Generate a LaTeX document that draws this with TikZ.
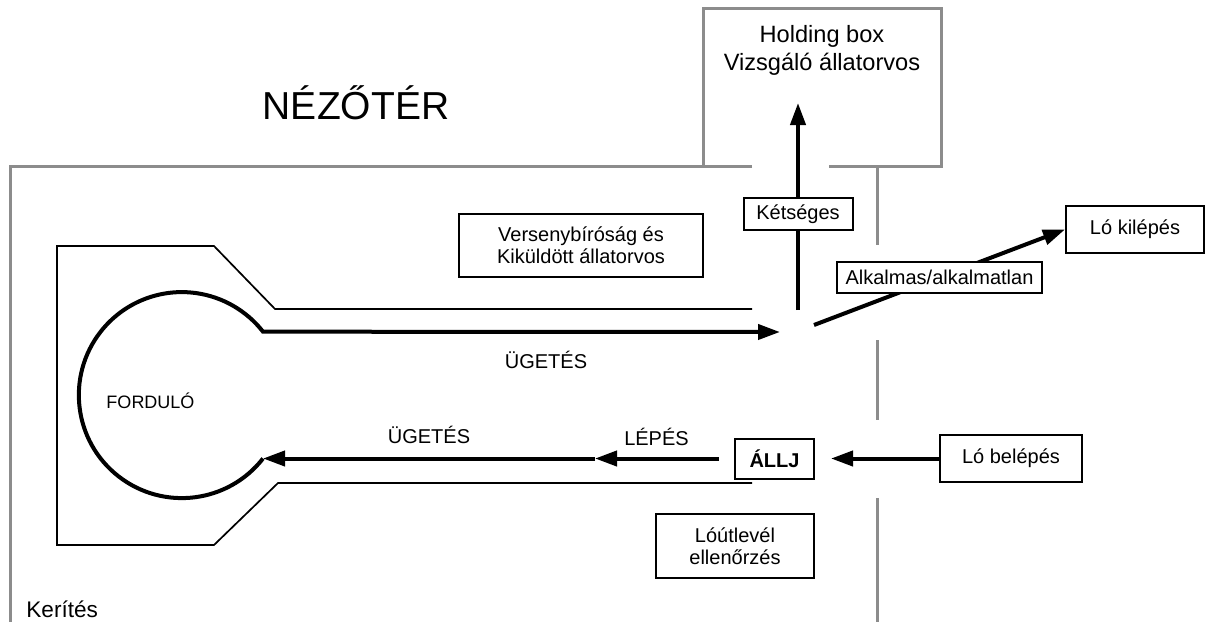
\documentclass[tikz,border=0pt]{standalone}
\usepackage{fontspec}
\setmainfont{Liberation Sans}
\usetikzlibrary{arrows.meta,positioning}
\usepackage{xcolor}
\definecolor{fencegray}{RGB}{140,140,140}

\begin{document}
\begin{tikzpicture}[x=0.5pt,y=-0.5pt]
      \tikzstyle{box} = [rectangle, draw, line width=1pt, fill=white, align=center, inner sep=2pt, font=\fontsize{10}{11}\selectfont]
      \tikzstyle{fence} = [draw=fencegray, line width=1.5pt]
      \tikzstyle{track} = [draw, line width=0.85pt]
      \tikzstyle{run} = [draw, line width=2pt, -{Triangle[length=11pt,width=7.5pt]}]
      \tikzstyle{lbl} = [anchor=base, font=\fontsize{10}{11}\selectfont]

      \useasboundingbox (0,0) rectangle (1205,622);

      % kerites es holding box
      \draw[fence] (752,166) -- (10,166) -- (10,622);
      \draw[fence] (703,166) -- (703,8) -- (941,8) -- (941,166) -- (829,166);
      \draw[fence] (877,166) -- (877,245);
      \draw[fence] (877,340) -- (877,420);
      \draw[fence] (877,498) -- (877,622);

      % palya
      \draw[track] (752,309) -- (275,309) -- (214,246) -- (57,246) -- (57,545) -- (214,545) -- (278,483) -- (752,483);

      \node[anchor=base, font=\fontsize{19.5}{20}\selectfont] (nezoter) at (356,119) {NÉZŐTÉR};
      \node[align=center, font=\fontsize{11.8}{14}\selectfont] (holding) at (822,50) {Holding box\\Vizsgáló állatorvos};
      \node[anchor=base west, inner sep=0pt, font=\fontsize{11.3}{12}\selectfont] (kerites) at (26,617) {Kerítés};
      \node[anchor=base, font=\fontsize{9}{10}\selectfont] (fordulo) at (150.5,408) {FORDULÓ};

      \node[box, minimum width=122pt, minimum height=31.5pt] (verseny) at (581,245.5) {Versenybíróság és\\Kiküldött állatorvos};
      \node[box, minimum width=69pt, minimum height=23.5pt] (kilep) at (1135,229.5) {Ló kilépés};
      \node[box, minimum width=71pt, minimum height=23.5pt] (belep) at (1011,458.5) {Ló belépés};
      \node[box, minimum width=39.5pt, minimum height=20pt, font=\fontsize{10}{11}\selectfont\bfseries] (allj) at (774.5,458.5) {ÁLLJ};
      \node[box, minimum width=79pt, minimum height=32pt] (utlevel) at (735,546) {Lóútlevél\\ellenőrzés};

      \node[lbl] (uget1) at (546,368) {ÜGETÉS};
      \node[lbl] (uget2) at (429,443) {ÜGETÉS};
      \node[lbl] (lepes) at (656.5,445) {LÉPÉS};

      \coordinate (fordLo) at (263,458.5);
      \coordinate (elagaz) at (780,332);
      \coordinate (lepesPt) at (595,458.5);
      \coordinate (ketStart) at (798,310);
      \coordinate (ketEnd) at (798,103);
      \coordinate (alkStart) at (814,325);

      % mozgas
      \draw[run] (fordLo) arc[start angle=38, end angle=322, radius=103] -- (elagaz);
      \draw[run, shorten >=8pt] (belep) -- (allj);
      \draw[run, shorten <=7.5pt] (allj) -- (lepesPt);
      \draw[run] (lepesPt) -- (fordLo);
      \draw[run] (ketStart) -- (ketEnd) node[box, pos=0.464, minimum width=54.5pt, minimum height=16pt] (ketseg) {Kétséges};
      \draw[run] (alkStart) -- (kilep.west) node[box, midway, minimum width=102.5pt, minimum height=15.5pt] (alk) {Alkalmas/alkalmatlan};
    \end{tikzpicture}
\end{document}
